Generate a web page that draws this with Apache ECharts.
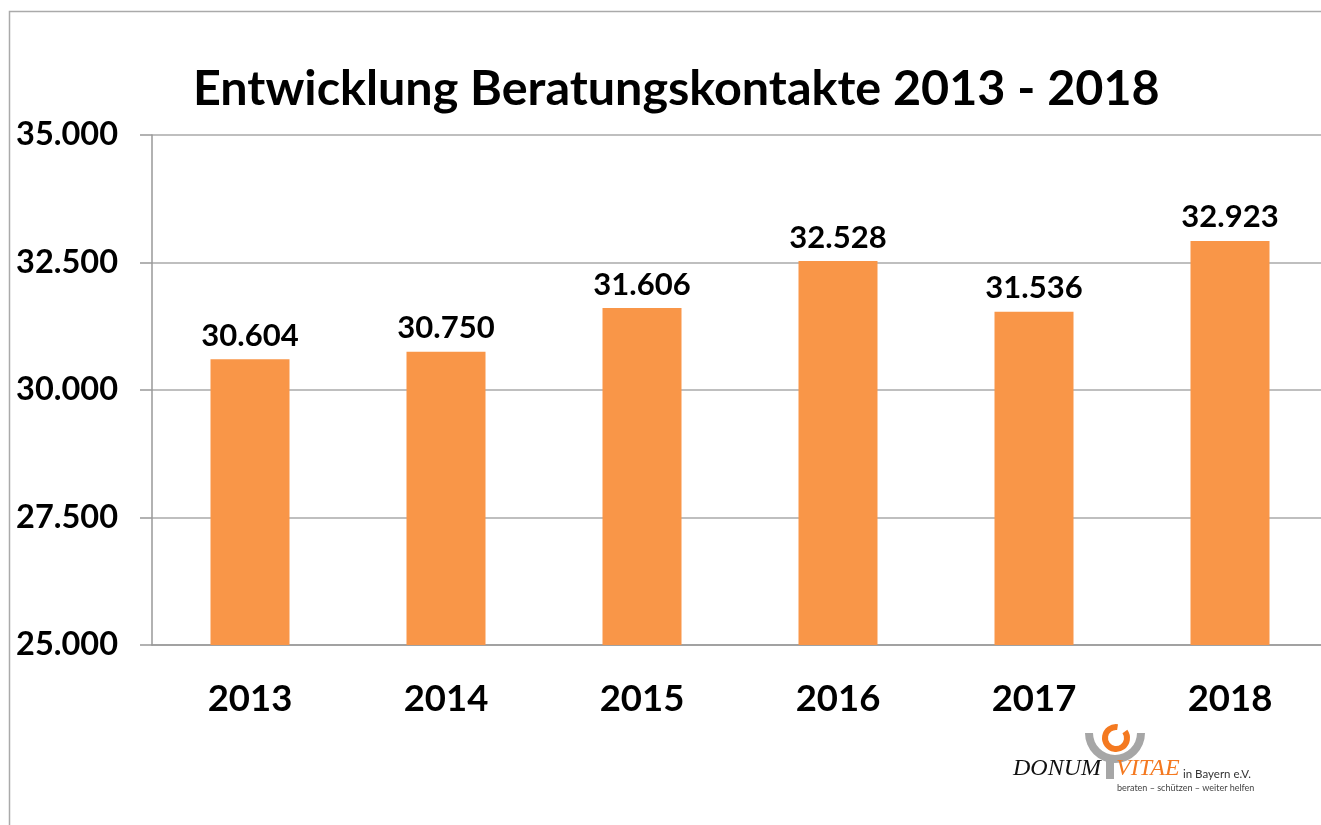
<!DOCTYPE html>
<html>
<head>
<meta charset="utf-8">
<script src="https://cdn.jsdelivr.net/npm/echarts@6/dist/echarts.min.js"></script>
<style>
html, body { margin: 0; padding: 0; background: #fff; }
#chart { width: 1321px; height: 825px; }
</style>
</head>
<body>
<div id="chart"></div>
<script>
var years = ['2013', '2014', '2015', '2016', '2017', '2018'];
var contacts = [30604, 30750, 31606, 32528, 31536, 32923];

function dotted(v) {
  return String(v).replace(/\B(?=(\d{3})+(?!\d))/g, '.');
}

var font = 'Lato, "Open Sans", sans-serif';

echarts.init(document.getElementById('chart')).setOption({
  animation: false,
  title: {
    text: 'Entwicklung Beratungskontakte 2013 - 2018',
    left: 188,
    top: 60,
    textStyle: { fontFamily: font, fontWeight: 'bold', fontSize: 48.5, color: '#000' }
  },
  grid: { left: 152, top: 135, width: 1176, bottom: 180, outerBoundsMode: 'none', containLabel: false },
  xAxis: {
    type: 'category',
    data: years,
    axisLine: { lineStyle: { color: '#999', width: 1.5 } },
    axisTick: { length: 12, lineStyle: { color: '#999', width: 1.5 } },
    axisLabel: { margin: 36, fontFamily: font, fontWeight: 'bold', fontSize: 36.5, color: '#000' }
  },
  yAxis: {
    type: 'value',
    min: 25000,
    max: 35000,
    interval: 2500,
    axisLine: { show: true, lineStyle: { color: '#999', width: 1.5 } },
    axisTick: { show: true, length: 12, lineStyle: { color: '#999', width: 1.5 } },
    splitLine: { lineStyle: { color: '#aaa', width: 1.5 } },
    axisLabel: {
      margin: 34,
      formatter: dotted,
      fontFamily: font, fontWeight: 'bold', fontSize: 32.5, color: '#000'
    }
  },
  series: [{
    type: 'bar',
    data: contacts,
    barWidth: 79,
    itemStyle: { color: '#F99648' },
    label: {
      show: true,
      position: 'top',
      distance: 8,
      formatter: function (p) { return dotted(p.value); },
      fontFamily: font, fontWeight: 'bold', fontSize: 31, color: '#000'
    }
  }],
  graphic: [
    { type: 'rect', silent: true, shape: { x: 9.5, y: 11.5, width: 1400, height: 900 },
      style: { fill: 'none', stroke: '#aaa', lineWidth: 1.5 } },
    { type: 'sector', shape: { cx: 1115, cy: 733, r: 30, r0: 22, startAngle: 0, endAngle: Math.PI },
      style: { fill: '#a6a6a6' } },
    { type: 'rect', shape: { x: 1106, y: 760, width: 8, height: 19 }, style: { fill: '#a6a6a6' } },
    { type: 'sector', shape: { cx: 1116, cy: 738, r: 14, r0: 8, startAngle: -Math.PI / 5, endAngle: -Math.PI / 2.2 + Math.PI * 2 },
      style: { fill: '#f47920' } },
    { type: 'text', x: 1013, y: 781, style: { text: 'DONUM', fontFamily: '"Liberation Serif", serif', fontStyle: 'italic', fontSize: 24, fill: '#111', textVerticalAlign: 'bottom' } },
    { type: 'text', x: 1116, y: 781, style: { text: 'VITAE', fontFamily: '"Liberation Serif", serif', fontStyle: 'italic', fontSize: 24, fill: '#f47920', textVerticalAlign: 'bottom' } },
    { type: 'text', x: 1183, y: 780, style: { text: 'in Bayern e.V.', fontFamily: font, fontSize: 11.5, fill: '#333', textVerticalAlign: 'bottom' } },
    { type: 'text', x: 1117, y: 784, style: { text: 'beraten – schützen – weiter helfen', fontFamily: font, fontSize: 9, fill: '#444' } }
  ]
});
</script>
</body>
</html>
